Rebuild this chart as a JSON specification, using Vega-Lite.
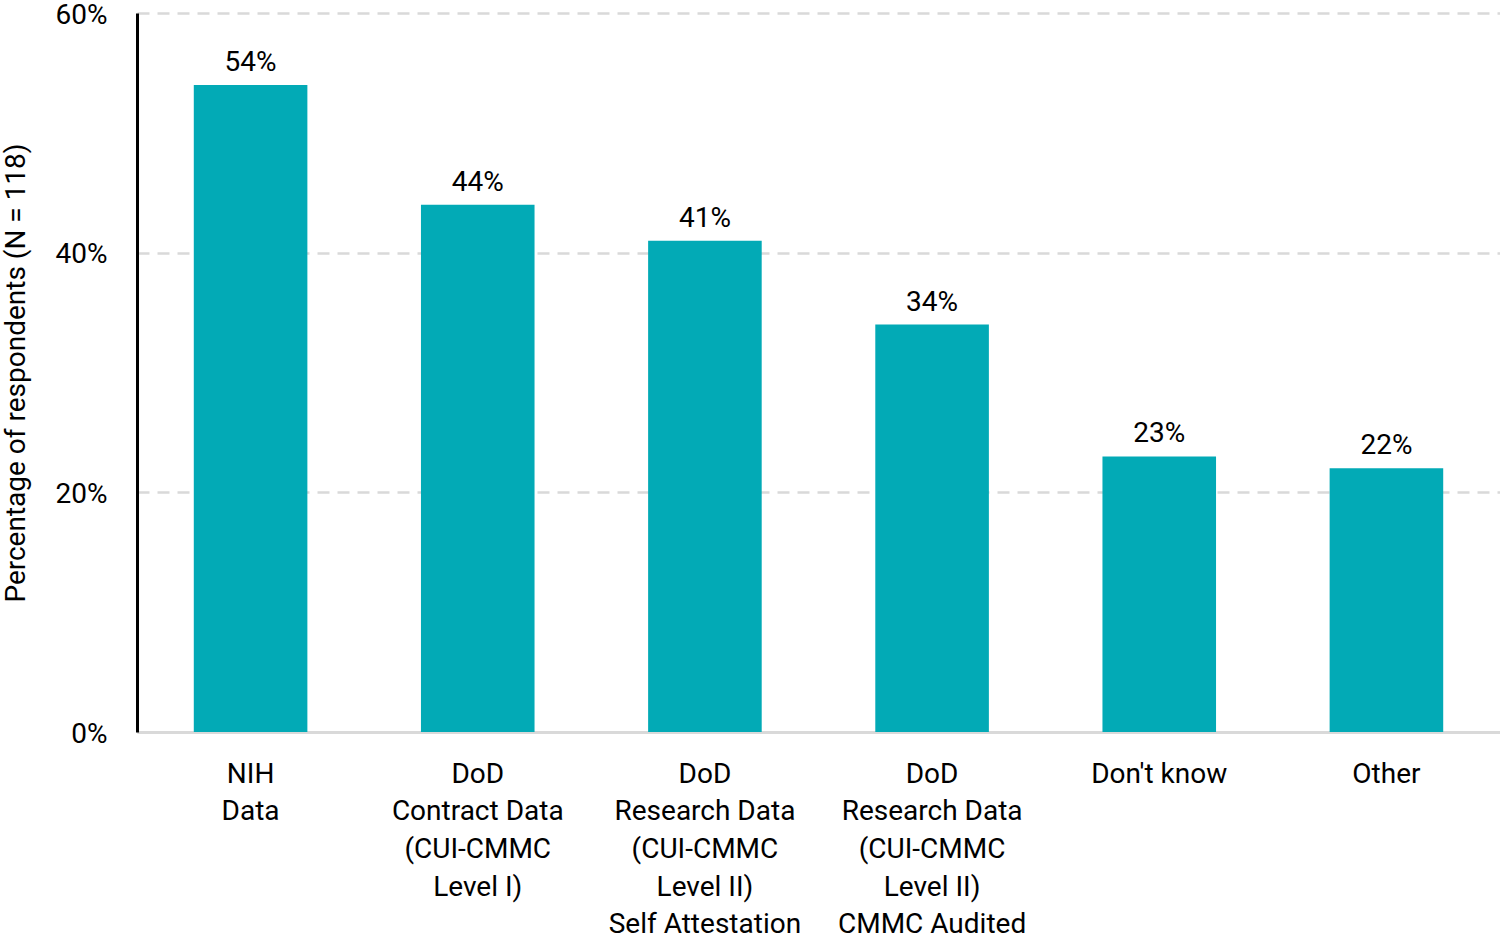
{
  "$schema": "https://vega.github.io/schema/vega-lite/v6.json",
  "width": 1363,
  "height": 719,
  "autosize": "none",
  "padding": {"left": 137, "top": 13, "right": 0, "bottom": 210},
  "background": "white",
  "config": {
    "view": {"stroke": null},
    "font": "Roboto"
  },
  "data": {
    "values": [
      {"category": "NIH\nData", "value": 54, "text": "54%"},
      {"category": "DoD\nContract Data\n(CUI-CMMC\nLevel I)", "value": 44, "text": "44%"},
      {"category": "DoD\nResearch Data\n(CUI-CMMC\nLevel II)\nSelf Attestation", "value": 41, "text": "41%"},
      {"category": "DoD\nResearch Data\n(CUI-CMMC\nLevel II)\nCMMC Audited", "value": 34, "text": "34%"},
      {"category": "Don't know", "value": 23, "text": "23%"},
      {"category": "Other", "value": 22, "text": "22%"}
    ]
  },
  "encoding": {
    "x": {
      "field": "category",
      "type": "nominal",
      "sort": null,
      "scale": {"paddingInner": 0.5, "paddingOuter": 0.25},
      "axis": {
        "title": null,
        "labelAngle": 0,
        "labelExpr": "split(datum.label, '\\n')",
        "labelFont": "Roboto",
        "labelFontSize": 28,
        "labelColor": "#000000",
        "labelLineHeight": 37.7,
        "labelPadding": 28,
        "labelBaseline": "top",
        "labelLimit": 0,
        "labelOverlap": false,
        "ticks": false,
        "domainColor": "#d9d9d9",
        "domainWidth": 3,
        "grid": false
      }
    }
  },
  "layer": [
    {
      "mark": {"type": "bar", "color": "#02aab6"},
      "encoding": {
        "y": {
          "field": "value",
          "type": "quantitative",
          "scale": {"domain": [0, 60]},
          "axis": {
            "title": "Percentage of respondents (N = 118)",
            "titleFont": "Roboto",
            "titleFontSize": 28,
            "titleFontWeight": "normal",
            "titleColor": "#000000",
            "titlePadding": 25,
            "values": [0, 20, 40, 60],
            "labelExpr": "datum.value + '%'",
            "labelFont": "Roboto",
            "labelFontSize": 28,
            "labelColor": "#000000",
            "labelPadding": 30,
            "labelOffset": 2,
            "ticks": false,
            "domainColor": "#000000",
            "domainWidth": 3,
            "grid": true,
            "gridColor": "#d9d9d9",
            "gridWidth": 2.5,
            "gridDash": [12, 8]
          }
        }
      }
    },
    {
      "mark": {"type": "text", "baseline": "bottom", "dy": -8, "fontSize": 28, "font": "Roboto", "color": "#000000"},
      "encoding": {
        "y": {"field": "value", "type": "quantitative"},
        "text": {"field": "text"}
      }
    }
  ]
}
